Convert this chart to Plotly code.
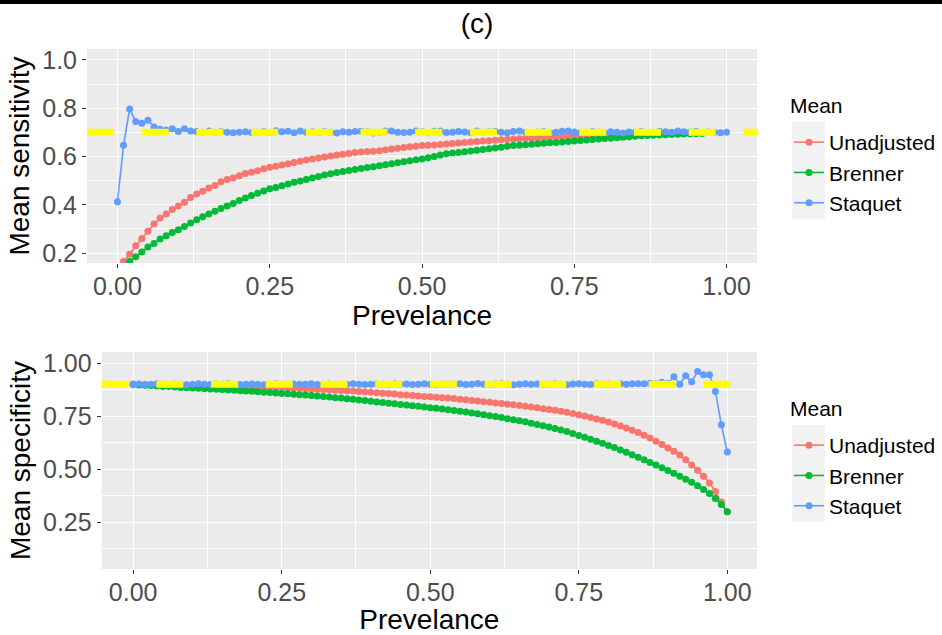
import plotly.graph_objects as go

# ---------------- data ----------------
prevalence = [round(i * 0.01, 2) for i in range(101)]          # 0.00 .. 1.00
prevalence_sens_adj = prevalence[1:97]                         # 0.01 .. 0.96

sens_unadjusted = [
    0.165, 0.195, 0.230, 0.260, 0.290, 0.320, 0.345, 0.362, 0.380, 0.395,
    0.410, 0.430, 0.445, 0.456, 0.470, 0.480, 0.495, 0.505, 0.511, 0.520,
    0.530, 0.535, 0.541, 0.549, 0.555, 0.560, 0.565, 0.570, 0.575, 0.580,
    0.585, 0.590, 0.594, 0.598, 0.602, 0.606, 0.609, 0.612, 0.616, 0.619,
    0.621, 0.622, 0.624, 0.628, 0.631, 0.634, 0.637, 0.640, 0.642, 0.645,
    0.646, 0.648, 0.650, 0.652, 0.654, 0.656, 0.658, 0.660, 0.662, 0.664,
    0.665, 0.667, 0.669, 0.670, 0.672, 0.673, 0.675, 0.676, 0.677, 0.679,
    0.680, 0.682, 0.683, 0.685, 0.686, 0.687, 0.688, 0.689, 0.690, 0.691,
    0.692, 0.693, 0.694, 0.695, 0.695, 0.696, 0.697, 0.697, 0.698, 0.698,
    0.699, 0.699, 0.699, 0.700, 0.700, 0.700,
]
sens_brenner = [
    0.130, 0.165, 0.185, 0.205, 0.225, 0.240, 0.258, 0.272, 0.285, 0.297,
    0.310, 0.325, 0.338, 0.350, 0.362, 0.373, 0.385, 0.395, 0.405, 0.418,
    0.428, 0.438, 0.448, 0.457, 0.466, 0.472, 0.479, 0.486, 0.493, 0.499,
    0.505, 0.511, 0.517, 0.523, 0.529, 0.534, 0.538, 0.542, 0.546, 0.550,
    0.554, 0.558, 0.562, 0.566, 0.570, 0.574, 0.578, 0.582, 0.586, 0.590,
    0.595, 0.600, 0.606, 0.611, 0.614, 0.617, 0.620, 0.623, 0.626, 0.629,
    0.632, 0.635, 0.638, 0.642, 0.645, 0.647, 0.649, 0.651, 0.653, 0.655,
    0.657, 0.658, 0.660, 0.662, 0.664, 0.666, 0.668, 0.670, 0.672, 0.674,
    0.676, 0.678, 0.680, 0.682, 0.684, 0.686, 0.687, 0.688, 0.689, 0.690,
    0.691, 0.692, 0.693, 0.694, 0.694, 0.695,
]
sens_staquet = [
    0.413, 0.647, 0.797, 0.745, 0.738, 0.750, 0.722, 0.713, 0.710, 0.715,
    0.703, 0.715, 0.705, 0.703, 0.700, 0.706, 0.700, 0.703, 0.700, 0.698,
    0.700, 0.702, 0.699, 0.700, 0.703, 0.700, 0.707, 0.702, 0.704, 0.698,
    0.705, 0.700, 0.702, 0.699, 0.703, 0.700, 0.697, 0.702, 0.700, 0.703,
    0.704, 0.702, 0.697, 0.699, 0.706, 0.705, 0.700, 0.699, 0.700, 0.706,
    0.702, 0.698, 0.704, 0.706, 0.699, 0.700, 0.703, 0.701, 0.698, 0.706,
    0.700, 0.702, 0.704, 0.700, 0.698, 0.703, 0.706, 0.700, 0.697, 0.701,
    0.703, 0.699, 0.700, 0.704, 0.706, 0.701, 0.698, 0.700, 0.703, 0.700,
    0.698, 0.702, 0.700, 0.697, 0.701, 0.700, 0.703, 0.699, 0.700, 0.704,
    0.702, 0.700, 0.706, 0.702, 0.700, 0.704, 0.699, 0.701, 0.700, 0.698,
    0.700,
]
spec_unadjusted = [
    0.900, 0.899, 0.899, 0.898, 0.898, 0.897, 0.897, 0.896, 0.896, 0.895,
    0.895, 0.894, 0.893, 0.893, 0.892, 0.891, 0.891, 0.890, 0.889, 0.888,
    0.888, 0.887, 0.886, 0.885, 0.884, 0.883, 0.882, 0.881, 0.880, 0.879,
    0.877, 0.876, 0.875, 0.874, 0.872, 0.871, 0.869, 0.868, 0.866, 0.864,
    0.862, 0.860, 0.858, 0.856, 0.854, 0.851, 0.849, 0.847, 0.845, 0.843,
    0.841, 0.839, 0.837, 0.835, 0.833, 0.830, 0.827, 0.824, 0.821, 0.818,
    0.815, 0.812, 0.809, 0.806, 0.803, 0.800, 0.797, 0.793, 0.789, 0.785,
    0.781, 0.778, 0.773, 0.768, 0.762, 0.757, 0.751, 0.744, 0.737, 0.730,
    0.722, 0.713, 0.704, 0.694, 0.684, 0.673, 0.660, 0.647, 0.632, 0.616,
    0.600, 0.584, 0.567, 0.545, 0.520, 0.495, 0.467, 0.435, 0.395, 0.345,
    0.300,
]
spec_brenner = [
    0.900, 0.897, 0.895, 0.894, 0.892, 0.890, 0.889, 0.887, 0.885, 0.884,
    0.882, 0.881, 0.879, 0.878, 0.876, 0.875, 0.873, 0.872, 0.870, 0.868,
    0.867, 0.865, 0.863, 0.861, 0.859, 0.857, 0.855, 0.853, 0.851, 0.849,
    0.847, 0.845, 0.842, 0.840, 0.837, 0.835, 0.832, 0.829, 0.826, 0.823,
    0.820, 0.817, 0.814, 0.811, 0.808, 0.805, 0.802, 0.799, 0.796, 0.793,
    0.790, 0.787, 0.784, 0.780, 0.777, 0.773, 0.769, 0.765, 0.761, 0.757,
    0.752, 0.748, 0.743, 0.738, 0.733, 0.728, 0.723, 0.717, 0.711, 0.705,
    0.699, 0.692, 0.685, 0.677, 0.668, 0.659, 0.650, 0.641, 0.632, 0.622,
    0.612, 0.602, 0.591, 0.580, 0.568, 0.556, 0.544, 0.532, 0.520, 0.507,
    0.494, 0.481, 0.467, 0.453, 0.438, 0.422, 0.405, 0.386, 0.362, 0.334,
    0.300,
]
spec_staquet = [
    0.900, 0.901, 0.899, 0.900, 0.902, 0.900, 0.899, 0.901, 0.900, 0.898,
    0.900, 0.902, 0.900, 0.899, 0.901, 0.900, 0.903, 0.900, 0.899, 0.900,
    0.901, 0.900, 0.898, 0.900, 0.902, 0.900, 0.899, 0.901, 0.900, 0.900,
    0.902, 0.899, 0.900, 0.901, 0.900, 0.898, 0.900, 0.902, 0.900, 0.899,
    0.900, 0.901, 0.900, 0.899, 0.902, 0.900, 0.901, 0.899, 0.900, 0.903,
    0.900, 0.898, 0.900, 0.901, 0.900, 0.902, 0.899, 0.900, 0.904, 0.900,
    0.899, 0.901, 0.903, 0.900, 0.898, 0.900, 0.902, 0.900, 0.901, 0.899,
    0.900, 0.902, 0.900, 0.898, 0.901, 0.903, 0.900, 0.899, 0.902, 0.900,
    0.901, 0.899, 0.902, 0.900, 0.903, 0.903, 0.902, 0.905, 0.902, 0.910,
    0.905, 0.936, 0.900, 0.940, 0.912, 0.960, 0.945, 0.945, 0.866, 0.709,
    0.581,
]
true_sensitivity = 0.7
true_specificity = 0.9

series_names = ["Unadjusted", "Brenner", "Staquet"]
colors = {"Unadjusted": "#F8766D", "Brenner": "#00BA38", "Staquet": "#619CFF"}
legend_title = "Mean"

# ---------------- figure ----------------
W, H = 942, 635
FONT = "Liberation Sans, Arial, sans-serif"


def fx(px):
    return px / W


def fy(py):
    return 1 - py / H


fig = go.Figure()

top = [
    ("Unadjusted", prevalence_sens_adj, sens_unadjusted),
    ("Brenner", prevalence_sens_adj, sens_brenner),
    ("Staquet", prevalence, sens_staquet),
]
bottom = [
    ("Unadjusted", prevalence, spec_unadjusted),
    ("Brenner", prevalence, spec_brenner),
    ("Staquet", prevalence, spec_staquet),
]

for name, xs, ys in top:
    fig.add_trace(go.Scatter(
        x=xs, y=ys, name=name, mode="lines+markers",
        line=dict(color=colors[name], width=1.6),
        marker=dict(color=colors[name], size=7),
        xaxis="x", yaxis="y", legend="legend", legendgroup="t" + name,
    ))
for name, xs, ys in bottom:
    fig.add_trace(go.Scatter(
        x=xs, y=ys, name=name, mode="lines+markers",
        line=dict(color=colors[name], width=1.6),
        marker=dict(color=colors[name], size=7),
        xaxis="x2", yaxis="y2", legend="legend2", legendgroup="b" + name,
    ))

tick_font = dict(family=FONT, size=25, color="#4D4D4D")
title_font = dict(family=FONT, size=28, color="black")
common_axis = dict(
    showgrid=True, gridcolor="white", gridwidth=1.4,
    zeroline=False, showline=False,
    ticks="outside", ticklen=4, tickwidth=1.1, tickcolor="#333333",
    tickfont=tick_font, automargin=False,
)

LEG_X = 789
legend_common = dict(
    x=fx(LEG_X), xanchor="left", yanchor="top",
    font=dict(family=FONT, size=21, color="black"),
    bgcolor="rgba(0,0,0,0)", tracegroupgap=4.5, traceorder="normal",
)

fig.update_layout(
    width=W, height=H,
    margin=dict(l=0, r=0, t=0, b=0),
    paper_bgcolor="white", plot_bgcolor="#EBEBEB",
    font=dict(family=FONT, color="black"),
    title=dict(text="(c)", x=fx(477), y=fy(23), xanchor="center", yanchor="middle",
               font=dict(family=FONT, size=28, color="black")),
    xaxis=dict(domain=[fx(87), fx(757)], range=[-0.05, 1.05], anchor="y",
               tick0=0, dtick=0.25, tickformat=".2f", ticklabelstandoff=-3,
               minor=dict(tick0=0, dtick=0.125, showgrid=True, gridcolor="white", gridwidth=0.6),
               title=dict(text="Prevelance", font=title_font, standoff=1),
               **common_axis),
    yaxis=dict(domain=[fy(263), fy(49)], range=[0.159, 1.045], anchor="x",
               tick0=0, dtick=0.2, tickformat=".1f",
               minor=dict(tick0=0.1, dtick=0.2, showgrid=True, gridcolor="white", gridwidth=0.6),
               title=dict(text="Mean sensitivity", font=title_font, standoff=4),
               **common_axis),
    xaxis2=dict(domain=[fx(101.7), fx(757)], range=[-0.053, 1.05], anchor="y2",
                tick0=0, dtick=0.25, tickformat=".2f", ticklabelstandoff=-3,
                minor=dict(tick0=0, dtick=0.125, showgrid=True, gridcolor="white", gridwidth=0.6),
                title=dict(text="Prevelance", font=title_font, standoff=1),
                **common_axis),
    yaxis2=dict(domain=[fy(569), fy(352)], range=[0.03, 1.052], anchor="x2",
                tick0=0, dtick=0.25, tickformat=".2f",
                minor=dict(tick0=0, dtick=0.125, showgrid=True, gridcolor="white", gridwidth=0.6),
                title=dict(text="Mean specificity", font=title_font, standoff=4),
                **common_axis),
    legend=dict(y=fy(122), **legend_common),
    legend2=dict(y=fy(425), **legend_common),
    showlegend=True,
)

# legend titles
for py in (105, 408):
    fig.add_annotation(text=legend_title, xref="paper", yref="paper",
                       x=fx(788), y=fy(py), xanchor="left", yanchor="middle",
                       showarrow=False, font=dict(family=FONT, size=21, color="black"))

# true-value reference lines (dashed yellow, above the data)
fig.add_shape(type="line", xref="x domain", yref="y", x0=0, x1=1,
              y0=true_sensitivity, y1=true_sensitivity, layer="above",
              line=dict(color="#FFFF00", width=7, dash="27px,27.7px"))
fig.add_shape(type="line", xref="x2 domain", yref="y2", x0=0, x1=1,
              y0=true_specificity, y1=true_specificity, layer="above",
              line=dict(color="#FFFF00", width=7, dash="27px,27.7px"))

# black rule along the top edge
fig.add_shape(type="rect", xref="paper", yref="paper", x0=0, x1=1, y0=fy(4), y1=1,
              fillcolor="black", line=dict(width=0), layer="below")

# legend key backgrounds
for top_px in (122, 425):
    fig.add_shape(type="rect", xref="paper", yref="paper",
                  x0=fx(LEG_X + 3), x1=fx(LEG_X + 36), y0=fy(top_px + 97), y1=fy(top_px),
                  fillcolor="#F2F2F2", line=dict(width=0), layer="below")

fig.write_html("out.html")
